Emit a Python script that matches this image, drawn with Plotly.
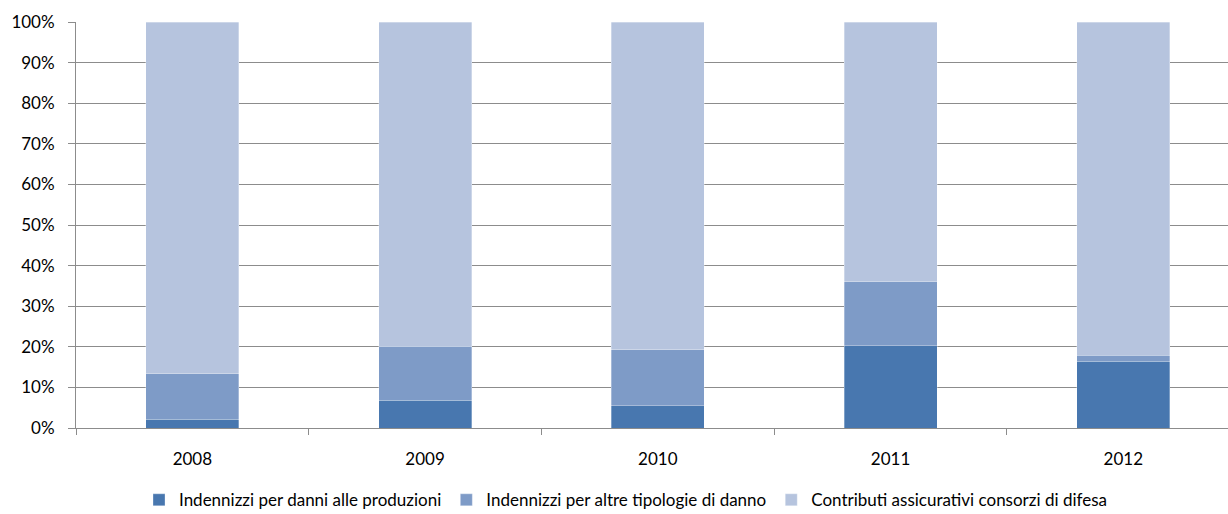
"""Stacked 100% bar chart: indennizzi e contributi assicurativi."""

import plotly.graph_objects as go

# ---------------------------------------------------------------------------
# Data (shares, %)
# ---------------------------------------------------------------------------

YEARS = ["2008", "2009", "2010", "2011", "2012"]
DANNI_PRODUZIONI = [2.1, 6.8, 5.5, 20.3, 16.4]
ALTRE_TIPOLOGIE = [11.3, 13.3, 13.8, 15.7, 1.5]
CONTRIBUTI = [86.6, 79.9, 80.7, 64.0, 82.1]
Y_TICKS = [0, 10, 20, 30, 40, 50, 60, 70, 80, 90, 100]

DARK_BLUE = "#4877AF"
MID_BLUE = "#7E9BC7"
LIGHT_BLUE = "#B6C4DE"
GRID = "#8C8C8C"
TEXT = "#000000"

series = [
    ("Indennizzi per danni alle produzioni", DANNI_PRODUZIONI, DARK_BLUE),
    ("Indennizzi per altre tipologie di danno", ALTRE_TIPOLOGIE, MID_BLUE),
    ("Contributi assicurativi consorzi di difesa", CONTRIBUTI, LIGHT_BLUE),
]

fig = go.Figure()
for name, values, color in series:
    fig.add_trace(go.Bar(
        x=YEARS,
        y=values,
        name=name,
        width=0.4,
        marker=dict(color=color, line=dict(color="rgba(255,255,255,0.6)", width=0.5)),
    ))

fig.update_layout(
    barmode="stack",
    width=1228,
    height=514,
    paper_bgcolor="white",
    plot_bgcolor="white",
    font=dict(family="Lato, 'Open Sans', sans-serif", size=17, color=TEXT),
    margin=dict(l=76, r=0, t=22, b=86, autoexpand=False),
    showlegend=True,
    legend=dict(
        orientation="h",
        x=0.477,
        xanchor="center",
        y=-0.178,
        yanchor="middle",
        font=dict(size=17),
        itemwidth=30,
        traceorder="normal",
    ),
    xaxis=dict(
        type="category",
        range=[-0.5, 4.45],
        tickson="boundaries",
        ticks="outside",
        ticklen=6,
        tickcolor=GRID,
        showline=True,
        linecolor=GRID,
        showgrid=False,
        automargin=False,
        ticklabelstandoff=16,
    ),
    yaxis=dict(
        range=[0, 100],
        tickvals=Y_TICKS,
        ticktext=[f"{v}%" for v in Y_TICKS],
        ticks="outside",
        ticklen=7,
        tickcolor=GRID,
        showline=True,
        linecolor=GRID,
        showgrid=True,
        gridcolor=GRID,
        gridwidth=1,
        zeroline=False,
        automargin=False,
        ticklabelstandoff=10,
    ),
)

# the page's default 8px body margin would shift the figure
fig.write_html(
    "out.html",
    config={"displayModeBar": False},
    post_script="document.body.style.margin = '0';",
)
